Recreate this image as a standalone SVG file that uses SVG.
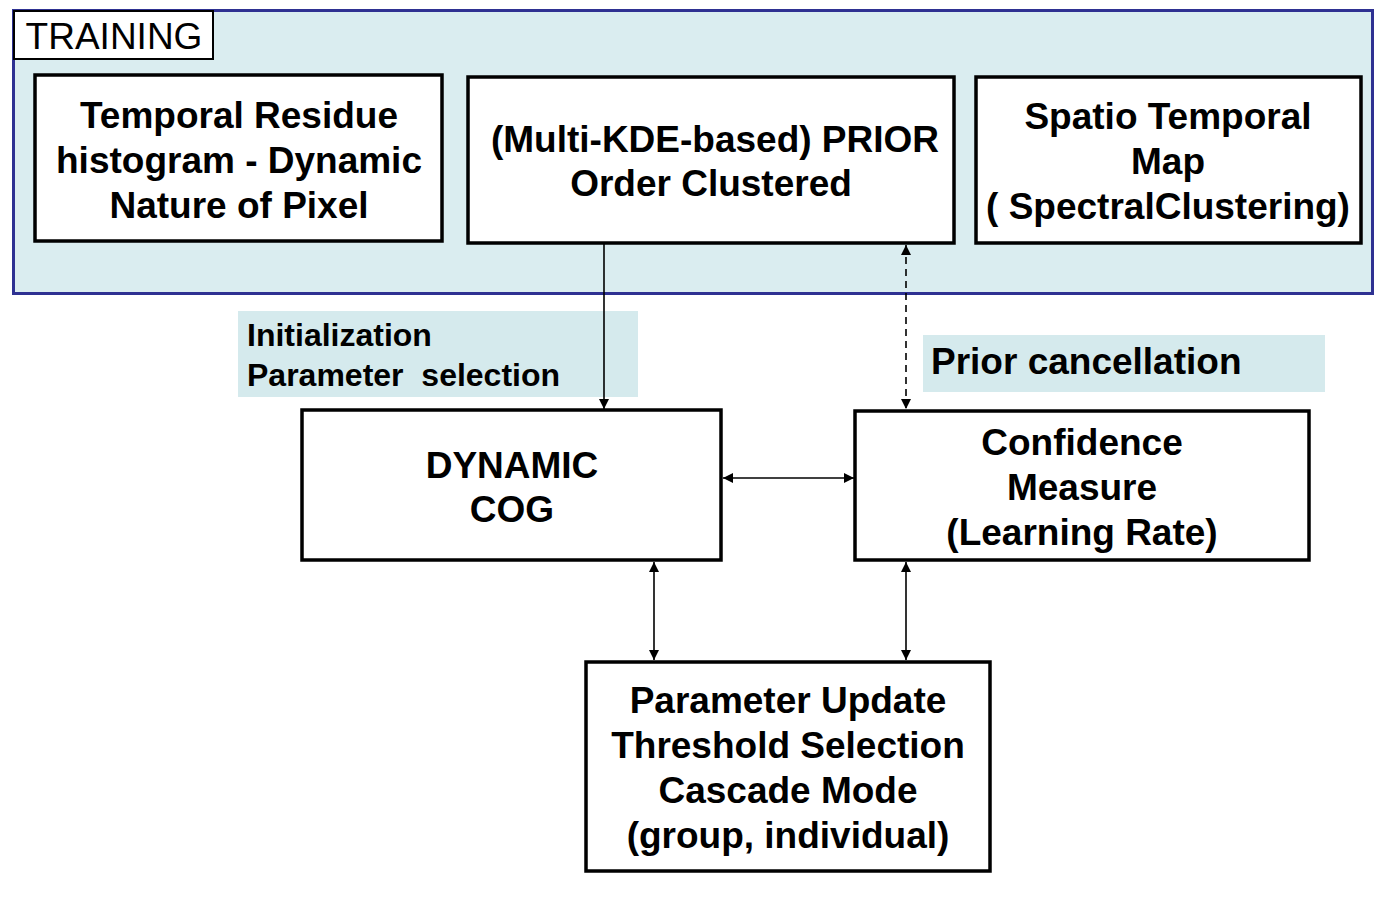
<svg xmlns="http://www.w3.org/2000/svg" width="1389" height="923" viewBox="0 0 1389 923">
<style>
.box{fill:#ffffff;stroke:#000000;stroke-width:3.5}
.t{font-family:"Liberation Sans",Arial,sans-serif;font-weight:bold;font-size:37px;fill:#000;text-anchor:middle}
.lbl{font-family:"Liberation Sans",Arial,sans-serif;font-weight:bold;fill:#000}
.c{stroke:#000;stroke-width:1.6;fill:none}
</style>
<defs>
<marker id="ah" viewBox="0 0 10 10" refX="10" refY="5" markerWidth="11" markerHeight="10" markerUnits="userSpaceOnUse" orient="auto-start-reverse">
<path d="M0,0 L10,5 L0,10 z" fill="#000"/>
</marker>
</defs>
<rect width="1389" height="923" fill="#ffffff"/>
<g id="training">
<rect x="13.5" y="10.5" width="1359" height="283" fill="#daedf0" stroke="#2e3192" stroke-width="3"/>
<rect x="14" y="11" width="199" height="48" fill="#ffffff" stroke="#000" stroke-width="2"/>
<text x="114" y="49" font-family="Liberation Sans,Arial,sans-serif" font-size="37" text-anchor="middle" fill="#000">TRAINING</text>
</g>
<g id="label-init">
<rect x="238" y="311" width="400" height="86" fill="#d5eaed"/>
<text class="lbl" x="247" y="346" font-size="32">Initialization</text>
<text class="lbl" x="247" y="386" font-size="32" xml:space="preserve">Parameter  selection</text>
</g>
<g id="label-prior">
<rect x="923" y="335" width="402" height="57" fill="#d5eaed"/>
<text class="lbl" x="931" y="374" font-size="37">Prior cancellation</text>
</g>
<g id="connectors">
<line class="c" x1="604" y1="243" x2="604" y2="409" marker-end="url(#ah)"/>
<line class="c" x1="906" y1="245" x2="906" y2="409" stroke-dasharray="7,5" marker-start="url(#ah)" marker-end="url(#ah)"/>
<line class="c" x1="723" y1="478" x2="854" y2="478" marker-start="url(#ah)" marker-end="url(#ah)"/>
<line class="c" x1="654" y1="562" x2="654" y2="660" marker-start="url(#ah)" marker-end="url(#ah)"/>
<line class="c" x1="906" y1="562" x2="906" y2="660" marker-start="url(#ah)" marker-end="url(#ah)"/>
</g>
<g id="temporal-residue">
<rect class="box" x="35" y="75" width="407" height="166"/>
<text class="t" x="239" y="128">Temporal Residue</text>
<text class="t" x="239" y="173">histogram - Dynamic</text>
<text class="t" x="239" y="218">Nature of Pixel</text>
</g>
<g id="prior">
<rect class="box" x="468" y="77" width="486" height="166"/>
<text class="t" x="715" y="152">(Multi-KDE-based) PRIOR</text>
<text class="t" x="711" y="196">Order Clustered</text>
</g>
<g id="spatio">
<rect class="box" x="976" y="77" width="385" height="166"/>
<text class="t" x="1168" y="129">Spatio Temporal</text>
<text class="t" x="1168" y="174">Map</text>
<text class="t" x="1168" y="219">( SpectralClustering)</text>
</g>
<g id="dynamic-cog">
<rect class="box" x="302" y="410" width="419" height="150"/>
<text class="t" x="512" y="478">DYNAMIC</text>
<text class="t" x="512" y="522">COG</text>
</g>
<g id="confidence">
<rect class="box" x="855" y="411" width="454" height="149"/>
<text class="t" x="1082" y="455">Confidence</text>
<text class="t" x="1082" y="500">Measure</text>
<text class="t" x="1082" y="545">(Learning Rate)</text>
</g>
<g id="parameter-update">
<rect class="box" x="586" y="662" width="404" height="209"/>
<text class="t" x="788" y="713">Parameter Update</text>
<text class="t" x="788" y="758">Threshold Selection</text>
<text class="t" x="788" y="803">Cascade Mode</text>
<text class="t" x="788" y="848">(group, individual)</text>
</g>
</svg>
